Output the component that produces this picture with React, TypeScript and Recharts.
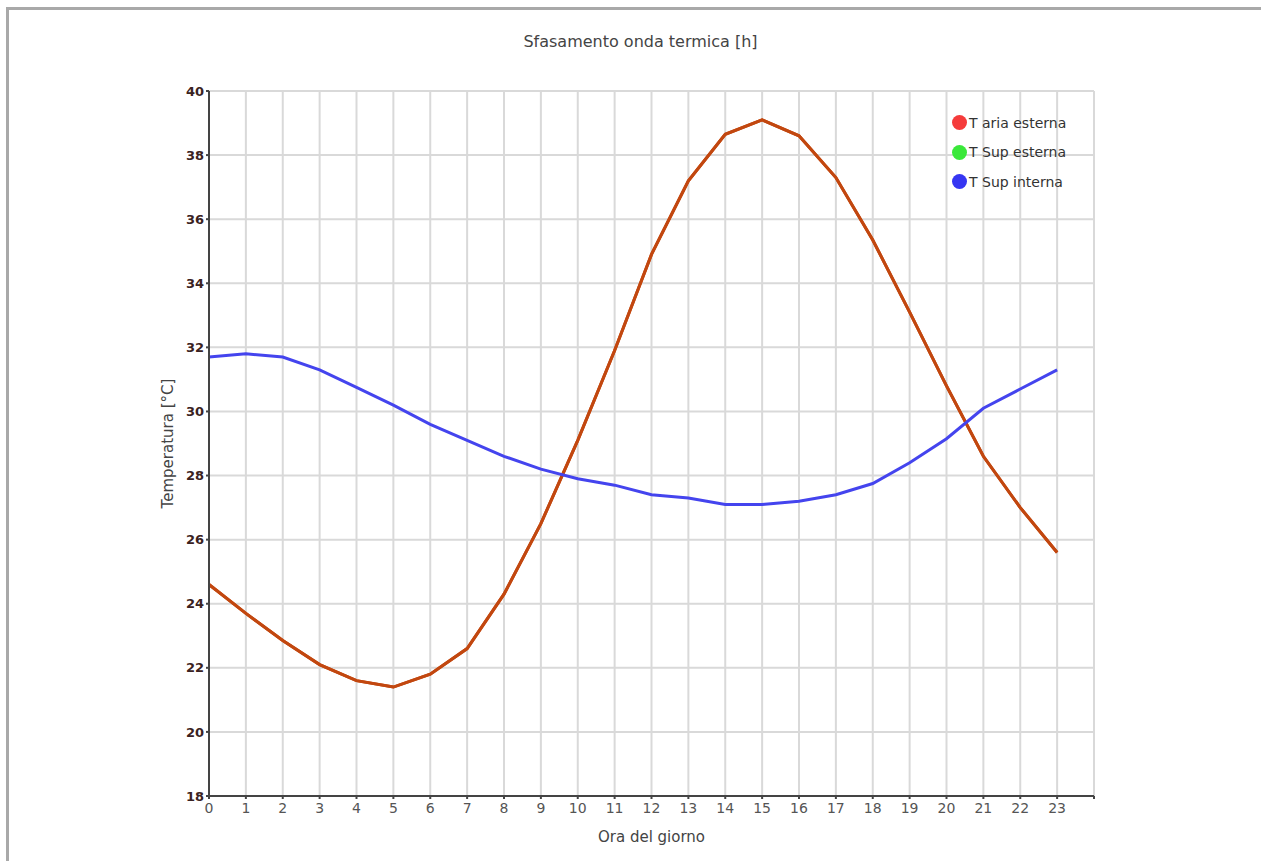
import React from 'react';
import { LineChart, Line, XAxis, YAxis, CartesianGrid, Label } from 'recharts';

// hours of the day
const hours = [0, 1, 2, 3, 4, 5, 6, 7, 8, 9, 10, 11, 12, 13, 14, 15, 16, 17, 18, 19, 20, 21, 22, 23];
const xTicks = [0, 1, 2, 3, 4, 5, 6, 7, 8, 9, 10, 11, 12, 13, 14, 15, 16, 17, 18, 19, 20, 21, 22, 23, 24];
const yTicks = [18, 20, 22, 24, 26, 28, 30, 32, 34, 36, 38, 40];

// temperatures
const tAriaEsterna = [24.6, 23.7, 22.85, 22.1, 21.6, 21.4, 21.8, 22.6, 24.3, 26.5, 29.1, 31.9, 34.9, 37.2, 38.65, 39.1, 38.6, 37.3, 35.35, 33.1, 30.8, 28.6, 27.0, 25.6];
const tSupEsterna = [24.6, 23.7, 22.85, 22.1, 21.6, 21.4, 21.8, 22.6, 24.3, 26.5, 29.1, 31.9, 34.9, 37.2, 38.65, 39.1, 38.6, 37.3, 35.35, 33.1, 30.8, 28.6, 27.0, 25.6];
const tSupInterna = [31.7, 31.8, 31.7, 31.3, 30.75, 30.2, 29.6, 29.1, 28.6, 28.2, 27.9, 27.7, 27.4, 27.3, 27.1, 27.1, 27.2, 27.4, 27.75, 28.4, 29.15, 30.1, 30.7, 31.3];

const seriesNames = ['T aria esterna', 'T Sup esterna', 'T Sup interna'];
const legendColors = ['#f53b3b', '#3ae83a', '#3636f2'];

const data = hours.map((h, i) => ({
  ora: h,
  aria: tAriaEsterna[i],
  supEst: tSupEsterna[i],
  supInt: tSupInterna[i],
}));

const font = '"DejaVu Sans", Verdana, sans-serif';

const CustomLegend = () => (
  <div style={{ position: 'absolute', left: 952, top: 108, fontFamily: font, fontSize: 14, color: '#333' }}>
    {seriesNames.map((name, i) => (
      <div key={name} style={{ display: 'flex', alignItems: 'center', height: 29.5 }}>
        <span style={{ width: 15, height: 15, borderRadius: '50%', background: legendColors[i], display: 'inline-block' }} />
        <span style={{ marginLeft: 2 }}>{name}</span>
      </div>
    ))}
  </div>
);

export default function App() {
  return (
    <div style={{ position: 'absolute', left: 0, top: 0, width: 1261, height: 861, overflow: 'hidden', background: '#fff' }}>
      {/* outer frame */}
      <div style={{ position: 'absolute', left: 6, top: 7, width: 1300, height: 900, border: '3px solid #a9a9a9' }} />

      <div style={{ position: 'absolute', left: 0, top: 32, width: 1281, textAlign: 'center', fontFamily: font, fontSize: 16, color: '#444' }}>
        Sfasamento onda termica [h]
      </div>

      <div style={{ position: 'absolute', left: 0, top: 0 }}>
        <LineChart width={1261} height={861} data={data} margin={{ top: 91, right: 167, left: 149, bottom: 35 }}>
          <CartesianGrid stroke="#d9d9d9" strokeWidth={2} />
          <XAxis
            dataKey="ora"
            type="number"
            domain={[0, 24]}
            ticks={xTicks}
            interval={0}
            tickFormatter={(v) => (v === 24 ? '' : String(v))}
            height={30}
            stroke="#444"
            strokeWidth={2}
            tickSize={3}
            tickMargin={4}
            tick={{ fill: '#555', fontSize: 14, fontFamily: font }}
          >
            <Label value="Ora del giorno" position="insideBottom" offset={-16} style={{ fill: '#444', fontSize: 15, fontFamily: font }} />
          </XAxis>
          <YAxis
            domain={[18, 40]}
            ticks={yTicks}
            interval={0}
            width={60}
            stroke="#444"
            strokeWidth={2}
            tickSize={3}
            tick={{ fill: '#3a2222', fontSize: 13, fontWeight: 'bold', fontFamily: font }}
          >
            <Label value="Temperatura [°C]" angle={-90} position="insideLeft" offset={19} style={{ textAnchor: 'middle', fill: '#444', fontSize: 15, fontFamily: font }} />
          </YAxis>
          <Line dataKey="supEst" name={seriesNames[1]} stroke="#c2470f" strokeWidth={3} dot={false} isAnimationActive={false} />
          <Line dataKey="aria" name={seriesNames[0]} stroke="#c2470f" strokeWidth={3} dot={false} isAnimationActive={false} />
          <Line dataKey="supInt" name={seriesNames[2]} stroke="#4444ee" strokeWidth={3} dot={false} isAnimationActive={false} />
        </LineChart>
      </div>

      <CustomLegend />
    </div>
  );
}
